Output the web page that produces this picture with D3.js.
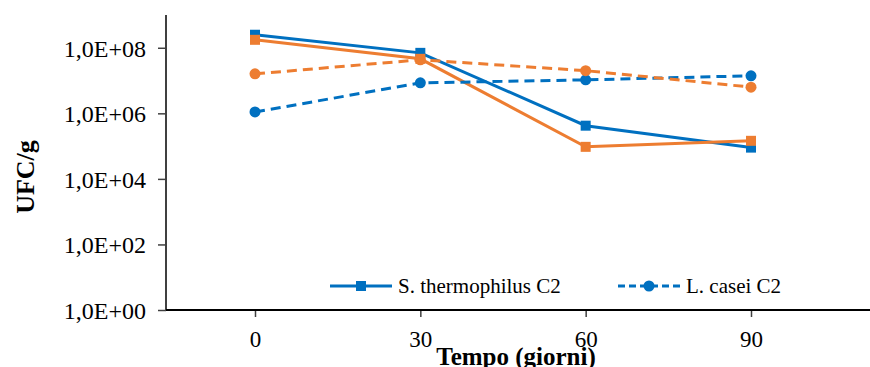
<!DOCTYPE html>
<html>
<head>
<meta charset="utf-8">
<script src="https://cdn.jsdelivr.net/npm/d3@7"></script>
<style>
  body { margin: 0; background: #fff; }
  text { font-family: "Liberation Serif", "Times New Roman", serif; fill: #000; }
</style>
</head>
<body>
<div id="chart"></div>
<script>
// giorni di conservazione
var days = [0, 30, 60, 90]
var yTicks = [1e0, 1e2, 1e4, 1e6, 1e8]

// UFC/g
var sThermoBlue = [2.5e8, 7.0e7, 4.2e5, 9.0e4]
var sThermoOrange = [1.75e8, 4.6e7, 9.5e4, 1.45e5]
var lCaseiBlue = [1.1e6, 8.5e6, 1.05e7, 1.4e7]
var lCaseiOrange = [1.6e7, 4.3e7, 2.0e7, 6.3e6]

var series = [
	{name: "S. thermophilus C2", values: sThermoBlue, color: "#0070C0", dash: null, marker: "square", legend: true},
	{name: "S. thermophilus C2 (2)", values: sThermoOrange, color: "#ED7D31", dash: null, marker: "square", legend: false},
	{name: "L. casei C2", values: lCaseiBlue, color: "#0070C0", dash: "10,6", marker: "circle", legend: true},
	{name: "L. casei C2 (2)", values: lCaseiOrange, color: "#ED7D31", dash: "10,6", marker: "circle", legend: false}
]

var width = 870
var height = 367
var axisLeft = 166, axisBottom = 310, axisTop = 15

var svg = d3.select("#chart").append("svg")
	.attr("width", width)
	.attr("height", height)

var x = d3.scalePoint()
	.domain(days)
	.range([255, 751])

var y = d3.scaleLog()
	.domain([1, 1e9])
	.range([axisBottom, axisTop])

// asse y
var yAxis = d3.axisLeft(y)
	.tickValues(yTicks)
	.tickSize(8)
	.tickPadding(12)
	.tickFormat(function(d) {
		var e = Math.round(Math.log10(d))
		return "1,0E+" + (e < 10 ? "0" + e : e)
	})

var gy = svg.append("g")
	.attr("transform", "translate(" + axisLeft + ",0)")
	.call(yAxis)
gy.select(".domain").remove()
gy.selectAll("line").attr("stroke", "#404040").attr("stroke-width", 1.5)
gy.selectAll("text").style("font-size", "24px").attr("dy", "0.35em")

svg.append("line")
	.attr("x1", axisLeft).attr("x2", axisLeft)
	.attr("y1", axisTop).attr("y2", axisBottom)
	.attr("stroke", "#404040").attr("stroke-width", 2)

// asse x
var xAxis = d3.axisBottom(x)
	.tickSize(7)
	.tickPadding(14)

var gx = svg.append("g")
	.attr("transform", "translate(0," + axisBottom + ")")
	.call(xAxis)
gx.select(".domain").remove()
gx.selectAll("line").attr("stroke", "#404040").attr("stroke-width", 1.5)
gx.selectAll("text").style("font-size", "23px")

svg.append("line")
	.attr("x1", axisLeft).attr("x2", width)
	.attr("y1", axisBottom).attr("y2", axisBottom)
	.attr("stroke", "#000").attr("stroke-width", 2)

// titoli
svg.append("text")
	.attr("transform", "translate(34,177) rotate(-90)")
	.attr("text-anchor", "middle")
	.style("font-size", "26px")
	.style("font-weight", "bold")
	.text("UFC/g")

svg.append("text")
	.attr("x", 516)
	.attr("y", 365)
	.attr("text-anchor", "middle")
	.style("font-size", "25px")
	.style("font-weight", "bold")
	.text("Tempo (giorni)")

// linee
var line = d3.line()
	.x(function(d, i) { return x(days[i]) })
	.y(function(d) { return y(d) })

function drawMarker(g, s, cx, cy) {
	if (s.marker == "square") {
		g.append("rect")
			.attr("x", cx - 5).attr("y", cy - 5)
			.attr("width", 10).attr("height", 10)
			.attr("fill", s.color)
	} else {
		g.append("circle")
			.attr("cx", cx).attr("cy", cy).attr("r", 5.5)
			.attr("fill", s.color)
	}
}

series.forEach(function(s) {
	var g = svg.append("g")
	g.append("path")
		.datum(s.values)
		.attr("d", line)
		.attr("fill", "none")
		.attr("stroke", s.color)
		.attr("stroke-width", 3)
		.attr("stroke-dasharray", s.dash)
	s.values.forEach(function(v, i) {
		drawMarker(g, s, x(days[i]), y(v))
	})
})

// legenda (solo serie blu)
var legendPos = [330, 618]
series.filter(function(s) { return s.legend }).forEach(function(s, i) {
	var lx = legendPos[i], ly = 286
	var g = svg.append("g")
	g.append("line")
		.attr("x1", lx).attr("x2", lx + 62)
		.attr("y1", ly).attr("y2", ly)
		.attr("stroke", s.color)
		.attr("stroke-width", 3)
		.attr("stroke-dasharray", s.dash ? "7,4" : null)
	drawMarker(g, s, lx + 31, ly)
	g.append("text")
		.attr("x", lx + 68)
		.attr("y", ly)
		.attr("dy", "0.35em")
		.style("font-size", "21px")
		.text(s.name)
})
</script>
</body>
</html>
